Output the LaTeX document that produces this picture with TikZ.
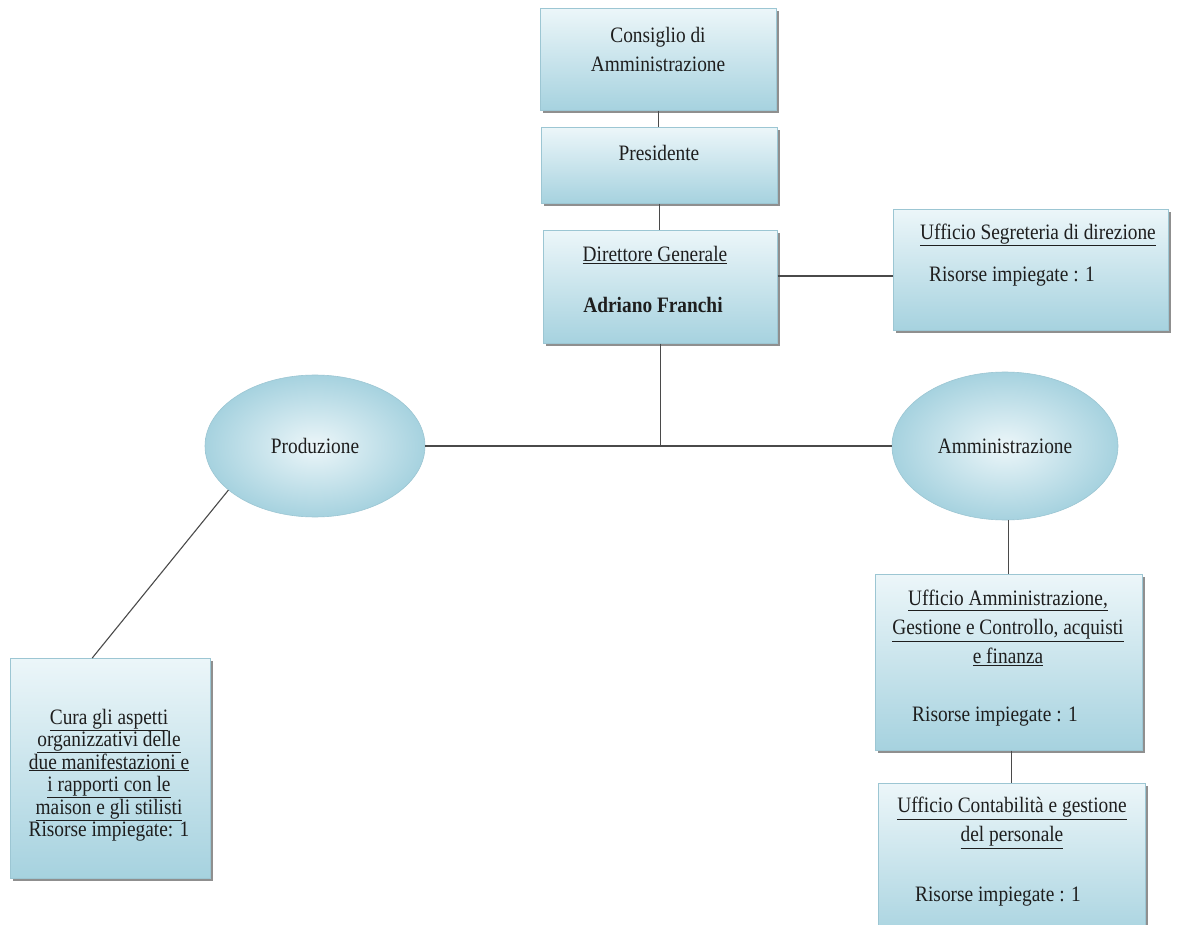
\documentclass[tikz,border=0pt]{standalone}
\usepackage{fontspec}
\setmainfont{Liberation Serif}[FakeStretch=0.88]
\usetikzlibrary{shapes.geometric,shadows,calc}
\definecolor{boxtop}{HTML}{ECF6F9}
\definecolor{boxbot}{HTML}{A6D2DF}
\definecolor{boxline}{HTML}{9CC6D3}
\definecolor{linkc}{HTML}{4A4A4A}
\definecolor{txt}{HTML}{1E1E1E}
\begin{document}
\begin{tikzpicture}[x=1pt,y=-1pt,
  orgbox/.style={draw=boxline, line width=0.6pt, top color=boxtop, bottom color=boxbot,
    drop shadow={shadow xshift=2.5pt, shadow yshift=-2.5pt, fill=black!55, opacity=0.8},
    inner sep=0pt, anchor=north west},
  orgell/.style={ellipse, draw=boxline, line width=0.6pt, inner color=boxtop, outer color=boxbot,
    inner sep=0pt, text=txt, font=\fontsize{22}{29}\selectfont},
  lbl/.style={text=txt, font=\fontsize{22}{29}\selectfont, align=center, inner sep=0pt},
  lblt/.style={text=txt, font=\fontsize{22}{22.5}\selectfont, align=center, inner sep=0pt},
  link/.style={draw=linkc, line width=1.1pt}]
\useasboundingbox (0,0) rectangle (1179,925);
\clip (0,0) rectangle (1179,925);
\fill[white] (0,0) rectangle (1179,925);

% boxes
\node[orgbox, minimum width=236pt, minimum height=102pt] (cda) at (540,8) {};
\node[orgbox, minimum width=236pt, minimum height=76pt] (pres) at (541,127) {};
\node[orgbox, minimum width=234pt, minimum height=113pt] (dir) at (543,230) {};
\node[orgbox, minimum width=275pt, minimum height=121pt] (seg) at (893,209) {};
\node[orgbox, minimum width=267pt, minimum height=176pt] (uam) at (875,574) {};
\node[orgbox, minimum width=267pt, minimum height=160pt] (con) at (878,783) {};
\node[orgbox, minimum width=200pt, minimum height=220pt] (cura) at (10,658) {};

% ellipses
\node[orgell, minimum width=220pt, minimum height=142pt] (prod) at (315,446) {Produzione};
\node[orgell, minimum width=226pt, minimum height=148pt] (amm) at (1005,446) {Amministrazione};

% texts
\node[lbl] (tcda) at (658,49) {Consiglio di\\Amministrazione};
\node[lbl] (tpres) at (659,153) {Presidente};
\node[lbl] (tdir1) at (655,255) {\underline{Direttore Generale}};
\node[lbl] (tdir2) at (653,305) {\textbf{Adriano Franchi}};
\node[lbl] (tseg1) at (1038,235) {\underline{Ufficio Segreteria di direzione}};
\node[lbl] (tseg2) at (1012,277) {Risorse impiegate : 1};
\node[lbl] (tuam1) at (1008,628) {\underline{Ufficio Amministrazione,}\\\underline{Gestione e Controllo, acquisti}\\\underline{e finanza}};
\node[lbl] (tuam2) at (995,717) {Risorse impiegate : 1};
\node[lbl] (tcon1) at (1012,823) {\underline{Ufficio Contabilità e gestione}\\\underline{del personale}};
\node[lbl] (tcon2) at (998,897) {Risorse impiegate : 1};
\node[lblt] (tcura) at (109,775) {\underline{Cura gli aspetti}\\\underline{organizzativi delle}\\\underline{due manifestazioni e}\\\underline{i rapporti con le}\\\underline{maison e gli stilisti}\\Risorse impiegate: 1};

% connectors
\draw[link] (cda.south) -- (cda.south |- pres.north);
\draw[link] (pres.south) -- (pres.south |- dir.north);
\coordinate (jn) at (dir.south |- prod.east);
\draw[link] (dir.south) -- (jn);
\draw[link] (prod.east) -- (amm.west);
\coordinate (sl) at (0,276);
\draw[link] (dir.east |- sl) -- (seg.west |- sl);
\draw[link] (uam.north |- amm.south) -- (uam.north);
\draw[link] (con.north |- uam.south) -- (con.north);
\coordinate (ct) at ($(cura.north west)!0.41!(cura.north east)$);
\draw[link] (prod.207) -- (ct);
\end{tikzpicture}
\end{document}
